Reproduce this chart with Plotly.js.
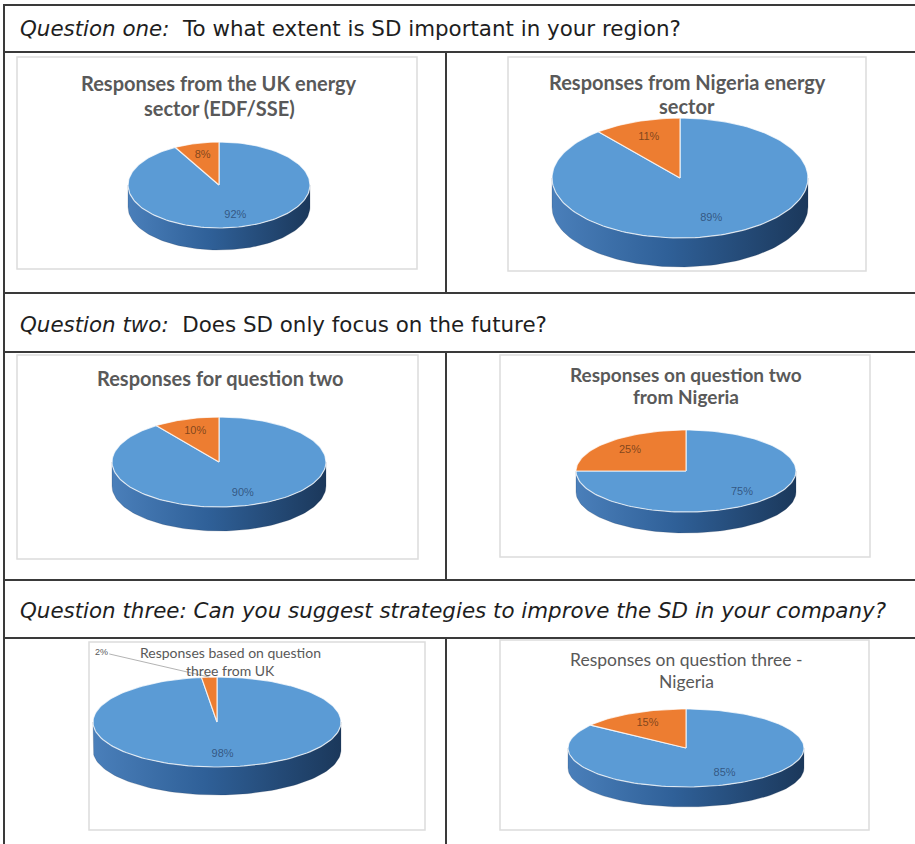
<!DOCTYPE html>
<html><head><meta charset="utf-8">
<script src="https://cdn.plot.ly/plotly-3.0.1.min.js"></script>
<style>html,body{margin:0;padding:0;background:#fff;overflow:hidden}#chart{width:915px;height:844px}</style>
</head><body><div id="chart"></div>
<script>
// ---------------- data ----------------
const questionLeads = ['Question one:', 'Question two:', 'Question three:'];
const questionTexts = ['To what extent is SD important in your region?',
                       'Does SD only focus on the future?',
                       'Can you suggest strategies to improve the SD in your company?'];
const chartTitles = [
  ['Responses from the UK energy', 'sector (EDF/SSE)'],
  ['Responses from Nigeria energy', 'sector'],
  ['Responses for question two'],
  ['Responses on question two', 'from Nigeria'],
  ['Responses based on question', 'three from UK'],
  ['Responses on question three -', 'Nigeria']
];
const sliceCategories = ['Majority response', 'Minority response'];
const majorityPct = [92, 89, 90, 75, 98, 85];
const minorityPct = [8, 11, 10, 25, 2, 15];

// ---------------- layout / style ----------------
const W = 915, H = 844;
const questionAllItalic = [false, false, true];
const questionY = [28, 324, 610];
const hLines = [5, 52, 293, 352, 580, 638];
const dividerSpans = [[52, 293], [352, 580], [638, 844]];
const boxes = [[17,57,417,269],[508,57,866,271],[17,355,418,559],[500,355,870,557],[89,642,425,830],[500,640,869,830]];
const pieGeom = [
  {cx:219, cy:185, rx:91,  ry:43, depth:22},
  {cx:680, cy:178, rx:128, ry:60, depth:29},
  {cx:219, cy:462, rx:107, ry:45, depth:24},
  {cx:686, cy:471, rx:110, ry:41, depth:21},
  {cx:217, cy:722, rx:124, ry:45, depth:28},
  {cx:686, cy:748, rx:118, ry:39, depth:20}
];
const titleGeom = [
  {x:219, ys:[83,108], size:20, bold:true},
  {x:687, ys:[82,106], size:20, bold:true},
  {x:220, ys:[378],    size:20, bold:true},
  {x:686, ys:[374,396],size:19, bold:true},
  {x:230, ys:[652,670],size:14, bold:false},
  {x:686, ys:[659,681],size:17.5, bold:false}
];
const sliceTop = ['#5b9bd5', '#ed7d31'];
const sliceSide = [
  [[0,'#4a7fba'],[0.45,'#2f6098'],[1,'#1b385b']],
  [[0,'#c9671f'],[1,'#86420f']]
];
const labelRadius = 0.72;

const px = x => x / W;
const py = y => 1 - y / H;

function arc(a0, a1, dy) {
  const n = Math.max(2, Math.ceil(Math.abs(a1 - a0) / 2));
  const xs = [], ys = [];
  for (let j = 0; j <= n; j++) {
    const a = (a0 + (a1 - a0) * j / n) * Math.PI / 180;
    xs.push(Math.cos(a)); ys.push(Math.sin(a) + dy);
  }
  return [xs, ys];
}

const traces = [];
const annotations = [];
const shapes = [];
const layout = {
  width: W, height: H, autosize: false,
  margin: {l:0, r:0, t:0, b:0, pad:0},
  paper_bgcolor: '#ffffff', plot_bgcolor: 'rgba(0,0,0,0)',
  showlegend: false, hovermode: false
};

pieGeom.forEach((g, i) => {
  const n = i + 1, sfx = n === 1 ? '' : String(n);
  const xa = 'x' + sfx, ya = 'y' + sfx;
  const d = g.depth / g.ry, pad = 3;
  layout['xaxis' + sfx] = {domain:[px(g.cx - g.rx - pad), px(g.cx + g.rx + pad)],
    range:[-1 - pad / g.rx, 1 + pad / g.rx], visible:false, fixedrange:true, anchor: ya};
  layout['yaxis' + sfx] = {domain:[py(g.cy + g.ry + g.depth + pad), py(g.cy - g.ry - pad)],
    range:[-1 - d - pad / g.ry, 1 + pad / g.ry], visible:false, fixedrange:true, anchor: xa};

  const vals = [majorityPct[i], minorityPct[i]];
  const total = vals.reduce((a, b) => a + b, 0);
  let cum = 0;
  const sides = [], tops = [], labels = [];
  vals.forEach((v, k) => {
    const a0 = 90 - 360 * cum / total;
    const a1 = 90 - 360 * (cum + v) / total;
    cum += v;
    // visible side wall (front half of the disc)
    [0, 1].forEach(kk => {
      const lo = Math.max(a1, -180 - 360 * kk), hi = Math.min(a0, -360 * kk);
      if (lo < hi) {
        const [tx, ty] = arc(hi, lo, 0);
        const [bx, by] = arc(lo, hi, -d);
        sides.push({type:'scatter', mode:'lines', x: tx.concat(bx, [tx[0]]), y: ty.concat(by, [ty[0]]),
          xaxis: xa, yaxis: ya, fill:'toself', fillcolor: sliceTop[k],
          fillgradient: {type:'horizontal', colorscale: sliceSide[k]},
          line:{color:'rgba(30,50,80,0.4)', width:0.5}, hoverinfo:'skip', name: sliceCategories[k]});
      }
    });
    // top face wedge
    const [wx, wy] = arc(a0, a1, 0);
    tops.push({type:'scatter', mode:'lines', x:[0].concat(wx, [0]), y:[0].concat(wy, [0]),
      xaxis: xa, yaxis: ya, fill:'toself', fillcolor: sliceTop[k],
      line:{color:'rgba(255,255,255,0.75)', width:1.2}, hoverinfo:'skip', name: sliceCategories[k]});
    // data label
    const mid = (a0 + a1) / 2 * Math.PI / 180;
    if (v / total >= 0.05) {
      labels.push({x: labelRadius * Math.cos(mid), y: labelRadius * Math.sin(mid), t: v + '%', k});
    } else {
      annotations.push({xref: xa, yref: ya, x: Math.cos(mid), y: Math.sin(mid), text: v + '%',
        showarrow: true, arrowhead: 0, arrowwidth: 0.8, arrowcolor: '#a0a0a0',
        ax: -108, ay: -25, standoff: 0,
        font: {family: 'Liberation Sans Narrow, Liberation Sans, sans-serif', size: 9, color: '#595959'}});
    }
  });
  traces.push(...sides, ...tops);
  traces.push({type:'scatter', mode:'text', xaxis: xa, yaxis: ya,
    x: labels.map(l => l.x), y: labels.map(l => l.y), text: labels.map(l => l.t),
    textposition: 'middle center', hoverinfo:'skip',
    textfont: {family:'Liberation Sans Narrow, Liberation Sans, sans-serif', size: 11,
      color: labels.map(l => l.k === 0 ? 'rgba(45,75,115,0.85)' : 'rgba(110,60,25,0.85)')}});

  // chart titles
  const tg = titleGeom[i];
  chartTitles[i].forEach((line, j) => {
    annotations.push({xref:'paper', yref:'paper', x: px(tg.x), y: py(tg.ys[j]),
      xanchor:'center', yanchor:'middle', showarrow:false,
      text: tg.bold ? '<b>' + line + '</b>' : line,
      font: {family: 'Lato, "Open Sans", sans-serif', size: tg.size, color: '#595959'}});
  });
});

// question rows
questionLeads.forEach((lead, q) => {
  const txt = questionAllItalic[q]
    ? '<i>' + lead + ' ' + questionTexts[q] + '</i>'
    : '<i>' + lead + '</i>\u00a0 ' + questionTexts[q];
  annotations.push({xref:'paper', yref:'paper', x: px(18), y: py(questionY[q]),
    xanchor:'left', yanchor:'middle', showarrow:false, text: txt,
    font: {family:'"DejaVu Sans", sans-serif', size: 21.4, color:'#1e1e1e'}});
});

// table rules
hLines.forEach(y => shapes.push({type:'line', xref:'paper', yref:'paper', x0: px(3), x1: 1, y0: py(y), y1: py(y),
  line:{color:'#3a3a3a', width:2}}));
shapes.push({type:'line', xref:'paper', yref:'paper', x0: px(4), x1: px(4), y0: py(5), y1: 0,
  line:{color:'#3a3a3a', width:2}});
dividerSpans.forEach(s => shapes.push({type:'line', xref:'paper', yref:'paper', x0: px(446), x1: px(446),
  y0: py(s[0]), y1: py(s[1]), line:{color:'#3a3a3a', width:2}}));
boxes.forEach(b => shapes.push({type:'rect', xref:'paper', yref:'paper', x0: px(b[0]), x1: px(b[2]),
  y0: py(b[3]), y1: py(b[1]), line:{color:'#dcdcdc', width:1.5}, layer:'below'}));

layout.annotations = annotations;
layout.shapes = shapes;

Plotly.newPlot('chart', traces, layout, {staticPlot: true, displayModeBar: false});
</script>
</body></html>
